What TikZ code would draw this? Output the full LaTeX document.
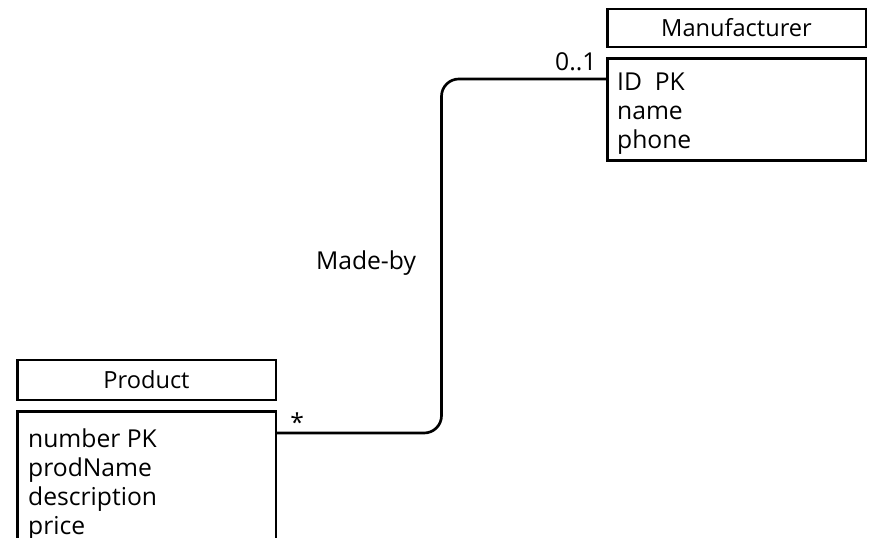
\documentclass[tikz,border=0pt]{standalone}
\usepackage{fontspec}
\setmainfont{Open Sans}
\usetikzlibrary{calc,positioning}

\begin{document}
\begin{tikzpicture}[x=0.75pt, y=-0.75pt, line width=2pt,
    font=\fontsize{18.5}{21.75}\selectfont,
    classhead/.style={draw, minimum width=194pt, inner sep=0pt,
      font=\fontsize{17.7}{21}\selectfont},
    classbody/.style={draw, minimum width=194pt, inner sep=0pt, below=6.5pt of #1},
    attrs/.style={align=left, inner sep=0pt, anchor=north west},
    assoc/.style={rounded corners=13pt}]
  \useasboundingbox (0,0) rectangle (871,538);
  \clip (0,0) rectangle (871,538);

  % Manufacturer class (top right)
  \node[classhead, minimum height=28.5pt] (manuhead) at (736.5,28) {Manufacturer};
  \node[classbody=manuhead, minimum height=76.5pt] (manubody) {};
  \node[attrs] (manuattrs) at ($(manubody.north west)+(10,15)$)
    {ID\ \ PK\\name\\phone};

  % Product class (bottom left, body runs off the page)
  \node[classhead, minimum height=30pt] (prodhead) at (146.5,380) {Product};
  \node[classbody=prodhead, minimum height=120pt] (prodbody) {};
  \node[attrs] (prodattrs) at ($(prodbody.north west)+(11,17)$)
    {number PK\\prodName\\description\\price};

  % Made-by association
  \coordinate (prodport) at ($(prodbody.north east)+(0,23)$);
  \coordinate (manuport) at ($(manubody.north west)+(0,22)$);
  \draw[assoc] (prodport) -| ($(prodport)!0.5!(manuport)$) |- (manuport);

  % multiplicities and role name
  \node[anchor=base east, inner sep=0pt] (manumult) at ($(manuport)+(-8,-8)$) {0..1};
  \node[inner sep=0pt] (prodmult) at ($(prodport)+(20,-11)$) {*};
  \node[anchor=base, inner sep=0pt] (madeby) at (366,270) {Made-by};
\end{tikzpicture}
\end{document}
